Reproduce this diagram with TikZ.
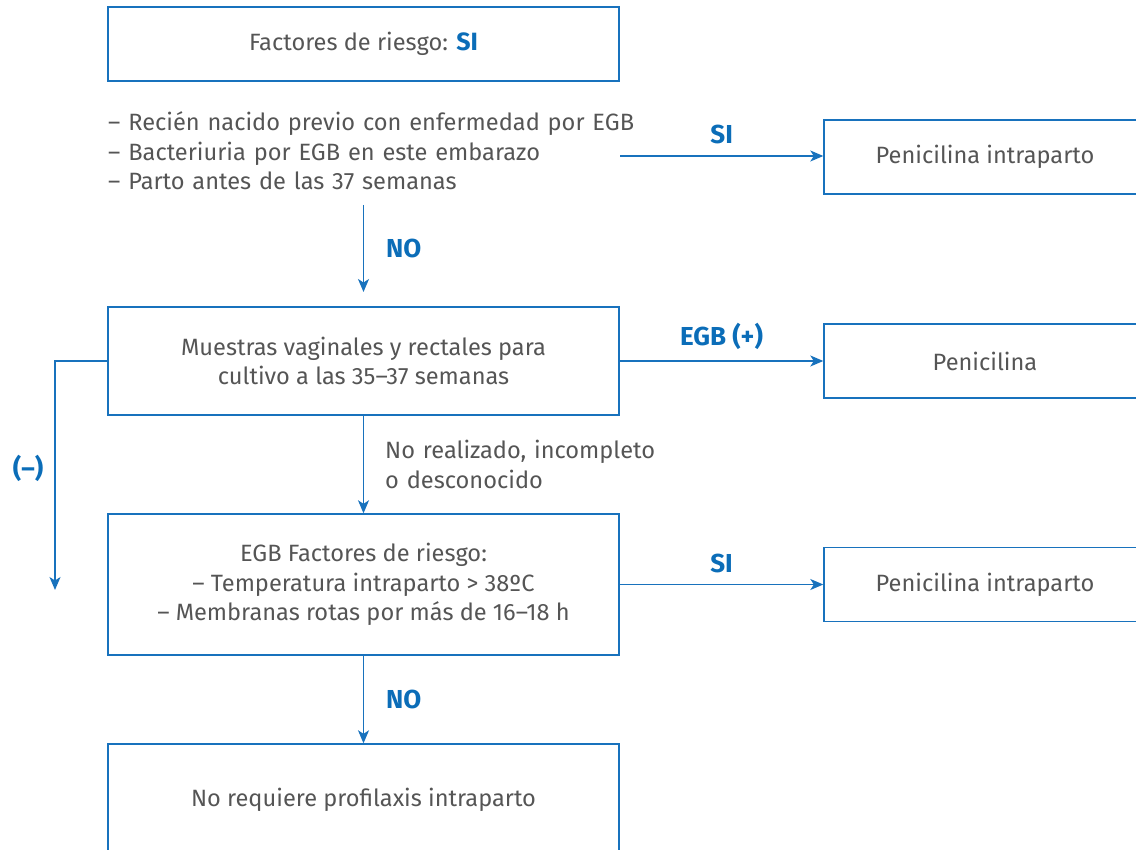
\documentclass[tikz,border=0pt]{standalone}
\usepackage{fontspec}
\setmainfont{Fira Sans}
\usetikzlibrary{arrows.meta}
\definecolor{flowblue}{HTML}{1872BD}
\definecolor{labelblue}{HTML}{0B6DB8}
\definecolor{bodygray}{HTML}{555555}
\tikzset{
  x=1pt, y=-1pt,
  every node/.style={font=\fontsize{23.6}{29.5}\selectfont, text=bodygray, inner sep=0pt},
  box/.style={draw=flowblue, line width=1.4pt, minimum width=511pt, align=center},
  sidebox/.style={draw=flowblue, line width=1.4pt, minimum width=322pt, minimum height=74pt, align=center},
  flow/.style={draw=flowblue, line width=1.4pt, -{Stealth[length=13pt, width=11pt, inset=3.5pt]}},
  tag/.style={font=\fontsize{26}{30}\selectfont\bfseries, text=labelblue},
}
\begin{document}
\begin{tikzpicture}
\useasboundingbox (0,0) rectangle (1136,850);
\clip (0,0) rectangle (1136,850);

% main column
\node[box, minimum height=74pt] (risk) at (363.5,44) {Factores de riesgo: {\fontsize{25}{29}\selectfont\bfseries\color{labelblue}SI}};
\node[anchor=north west, align=left, text width=560pt] (list) at (108,111.5)
  {– Recién nacido previo con enfermedad por EGB\\
   – Bacteriuria por EGB en este embarazo\\
   – Parto antes de las 37 semanas};
\node[box, minimum height=108pt] (culture) at (363.5,361)
  {\raisebox{-2pt}{\parbox{500pt}{\centering Muestras vaginales y rectales para\\cultivo a las 35–37 semanas}}};
\node[box, minimum height=141pt] (factors) at (363.5,584.5)
  {\raisebox{-2pt}{\parbox{500pt}{\centering EGB Factores de riesgo:\\– Temperatura intraparto > 38ºC\\– Membranas rotas por más de 16–18 h}}};
\node[box, minimum height=112pt] (none) at (363.5,800)
  {\raisebox{4pt}{No requiere profilaxis intraparto}};

% right column
\node[sidebox] (pen1) at (985,157) {Penicilina intraparto};
\node[sidebox] (pen2) at (985,361) {Penicilina};
\node[sidebox] (pen3) at (985,584.5) {Penicilina intraparto};

% loose ends
\coordinate (listout) at (620,156);
\coordinate (listdown) at (363.5,205);
\coordinate (nohead) at (363.5,292);
\coordinate (bend) at (55,361);
\coordinate (negend) at (55,590);

% connectors
\draw[flow] (listout) -- node[tag, above=11pt] {SI} (pen1.west |- listout);
\draw[flow] (listdown) -- node[tag, right=22pt] {NO} (nohead);
\draw[flow] (culture.east) -- node[tag, above=11pt] {EGB (+)} (pen2.west);
\draw[flow] (culture.west) -- (bend) -- node[tag, left=11pt, pos=0.47] {(–)} (negend);
\draw[flow] (culture.south) -- node[right=21pt, align=left, text width=300pt] {No realizado, incompleto\\o desconocido} (factors.north);
\draw[flow] (factors.east) -- node[tag, above=11pt] {SI} (pen3.west);
\draw[flow] (factors.south) -- node[tag, right=22pt] {NO} (none.north);
\end{tikzpicture}
\end{document}
